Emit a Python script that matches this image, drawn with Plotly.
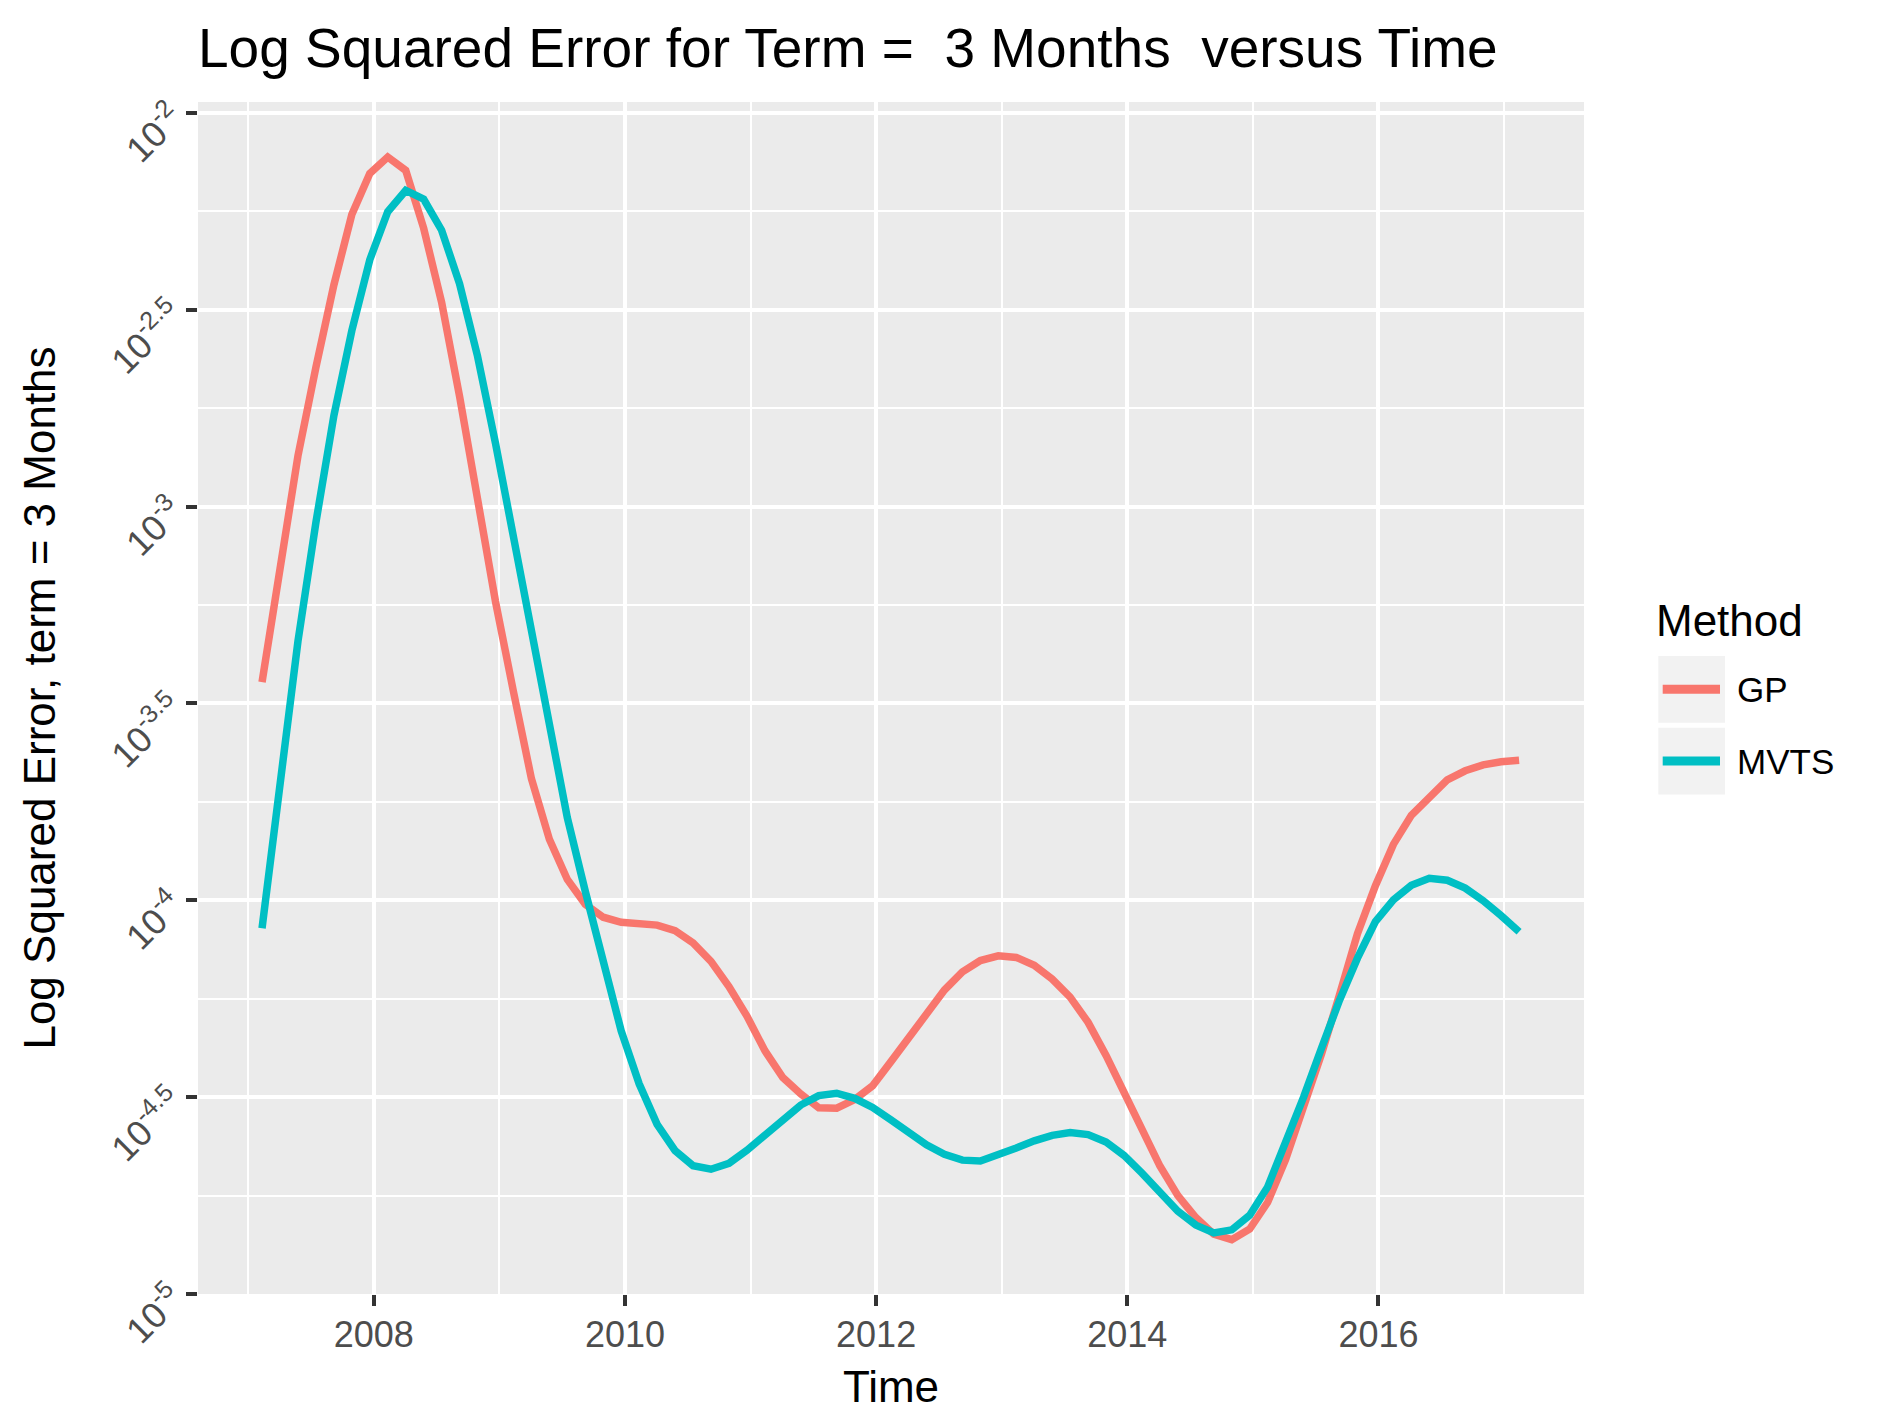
import plotly.graph_objects as go

# ---- data (y values are log10 of squared error) ----
time = [2007.110, 2007.253, 2007.396, 2007.539, 2007.682, 2007.825, 2007.968, 2008.111,
        2008.254, 2008.397, 2008.540, 2008.683, 2008.826, 2008.969, 2009.112, 2009.255,
        2009.398, 2009.541, 2009.684, 2009.827, 2009.970, 2010.113, 2010.256, 2010.399,
        2010.542, 2010.685, 2010.828, 2010.971, 2011.114, 2011.257, 2011.400, 2011.543,
        2011.686, 2011.829, 2011.972, 2012.115, 2012.258, 2012.401, 2012.544, 2012.687,
        2012.830, 2012.973, 2013.116, 2013.259, 2013.402, 2013.545, 2013.688, 2013.831,
        2013.974, 2014.117, 2014.260, 2014.403, 2014.546, 2014.689, 2014.832, 2014.975,
        2015.118, 2015.261, 2015.404, 2015.547, 2015.690, 2015.833, 2015.976, 2016.119,
        2016.262, 2016.405, 2016.548, 2016.691, 2016.834, 2016.977, 2017.120]

gp_log10 = [-3.446, -3.150, -2.871, -2.646, -2.437, -2.258, -2.154, -2.112,
            -2.146, -2.293, -2.481, -2.720, -2.992, -3.241, -3.470, -3.691,
            -3.845, -3.947, -4.010, -4.043, -4.056, -4.060, -4.063, -4.077,
            -4.108, -4.155, -4.219, -4.294, -4.382, -4.450, -4.492, -4.527,
            -4.528, -4.506, -4.471, -4.411, -4.351, -4.287, -4.228, -4.182,
            -4.153, -4.141, -4.145, -4.165, -4.200, -4.246, -4.310, -4.394,
            -4.488, -4.586, -4.675, -4.750, -4.806, -4.848, -4.862, -4.835,
            -4.767, -4.658, -4.527, -4.390, -4.240, -4.085, -3.963, -3.858,
            -3.784, -3.737, -3.694, -3.671, -3.656, -3.648, -3.644]

mvts_log10 = [-4.071, -3.705, -3.342, -3.040, -2.769, -2.553, -2.373, -2.251,
              -2.197, -2.219, -2.298, -2.434, -2.618, -2.839, -3.081, -3.310,
              -3.556, -3.790, -3.977, -4.161, -4.332, -4.466, -4.569, -4.636,
              -4.674, -4.683, -4.668, -4.635, -4.597, -4.556, -4.520, -4.496,
              -4.490, -4.503, -4.526, -4.557, -4.590, -4.621, -4.645, -4.660,
              -4.662, -4.647, -4.629, -4.611, -4.597, -4.590, -4.595, -4.614,
              -4.648, -4.693, -4.741, -4.790, -4.825, -4.845, -4.837, -4.800,
              -4.728, -4.620, -4.500, -4.375, -4.254, -4.147, -4.054, -3.999,
              -3.962, -3.944, -3.949, -3.969, -4.001, -4.039, -4.080]

methods = ["GP", "MVTS"]
colors = ["#F8766D", "#00BFC4"]

x_ticks = [2008, 2010, 2012, 2014, 2016]
x_minor = [2007, 2009, 2011, 2013, 2015, 2017]
y_tick_exp = [-5, -4.5, -4, -3.5, -3, -2.5, -2]
y_tick_text = ["10<sup>-5</sup>", "10<sup>-4.5</sup>", "10<sup>-4</sup>", "10<sup>-3.5</sup>",
               "10<sup>-3</sup>", "10<sup>-2.5</sup>", "10<sup>-2</sup>"]
y_minor_exp = [-4.75, -4.25, -3.75, -3.25, -2.75, -2.25]

FONT = "Liberation Sans, Arial, Helvetica, sans-serif"

W, H = 1884, 1425
L, R, T, B = 198, 300, 102, 131
PW, PH = W - L - R, H - T - B


def px(xp):
    return (xp - L) / PW


def py(yp):
    return (H - B - yp) / PH


fig = go.Figure()
for name, col, vals in zip(methods, colors, [gp_log10, mvts_log10]):
    fig.add_trace(go.Scatter(
        x=time, y=[10 ** v for v in vals], mode="lines", name=name,
        line=dict(color=col, width=7.5), showlegend=False))

fig.update_layout(
    width=W, height=H,
    margin=dict(l=L, r=R, t=T, b=B, autoexpand=False),
    paper_bgcolor="white", plot_bgcolor="#EBEBEB",
    font=dict(family=FONT, color="black"),
    title=dict(text="Log Squared Error for Term =  3 Months  versus Time",
               x=0, xref="paper", xanchor="left",
               y=1 - 47.5 / H, yref="container", yanchor="middle",
               font=dict(size=55, color="black", family=FONT)),
    xaxis=dict(
        range=[2006.600, 2017.637], tickmode="array", tickvals=x_ticks,
        ticktext=[str(v) for v in x_ticks],
        showgrid=True, gridcolor="white", gridwidth=3.8,
        minor=dict(tickmode="array", tickvals=x_minor, showgrid=True,
                   gridcolor="white", gridwidth=1.9, ticks=""),
        ticks="outside", ticklen=11, tickwidth=4, tickcolor="#333333",
        tickfont=dict(size=36, color="#4D4D4D", family=FONT),
        ticklabelstandoff=-2,
        zeroline=False, showline=False, automargin=False,
        title=dict(text="Time", font=dict(size=44, color="black", family=FONT), standoff=16),
    ),
    yaxis=dict(
        type="log", range=[-5, -1.9723], tickmode="array",
        tickvals=[10 ** e for e in y_tick_exp], ticktext=y_tick_text,
        tickangle=-45,
        showgrid=True, gridcolor="white", gridwidth=3.8,
        minor=dict(tickmode="array", tickvals=[10 ** e for e in y_minor_exp], showgrid=True,
                   gridcolor="white", gridwidth=1.9, ticks=""),
        ticks="outside", ticklen=11, tickwidth=4, tickcolor="#333333",
        tickfont=dict(size=36, color="#4D4D4D", family=FONT),
        ticklabelstandoff=6,
        zeroline=False, showline=False, automargin=False,
        title=dict(text="Log Squared Error, term = 3 Months",
                   font=dict(size=44, color="black", family=FONT), standoff=30),
    ),
)

# ---- legend drawn in ggplot style (key boxes, key lines, labels) ----
shapes = []
annotations = []
key_tops = [656, 727.7]
key_h = 66.7
for i, (name, col) in enumerate(zip(methods, colors)):
    top = key_tops[i]
    shapes.append(dict(type="rect", xref="paper", yref="paper",
                       x0=px(1658.3), x1=px(1725), y0=py(top + key_h), y1=py(top),
                       fillcolor="#F2F2F2", line=dict(width=0), layer="above"))
    yc = py(top + key_h / 2)
    shapes.append(dict(type="line", xref="paper", yref="paper",
                       x0=px(1662.7), x1=px(1720), y0=yc, y1=yc,
                       line=dict(color=col, width=9), layer="above"))
    annotations.append(dict(text=name, xref="paper", yref="paper", x=px(1735), y=yc,
                            xanchor="left", yanchor="middle", showarrow=False,
                            font=dict(size=35, color="black", family=FONT)))
annotations.append(dict(text="Method", xref="paper", yref="paper", x=px(1654), y=py(620.8),
                        xanchor="left", yanchor="middle", showarrow=False,
                        font=dict(size=44, color="black", family=FONT)))
fig.update_layout(shapes=shapes, annotations=annotations)

fig.write_html("out.html", config={"displayModeBar": False},
               post_script="document.body.style.margin='0';document.body.style.overflow='hidden';")
